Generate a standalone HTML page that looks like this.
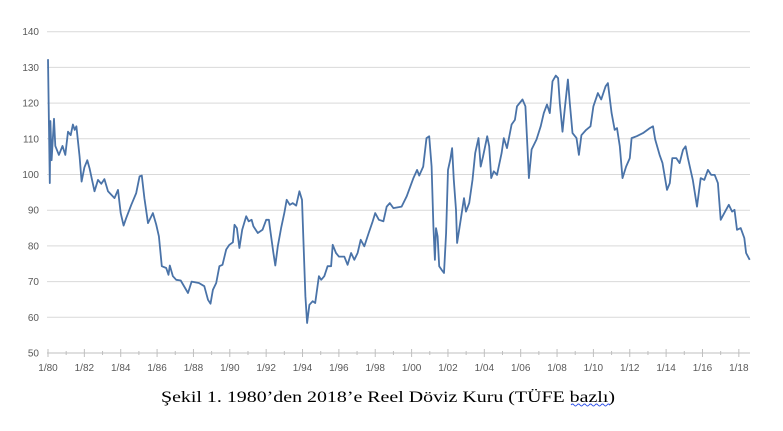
<!DOCTYPE html>
<html><head><meta charset="utf-8"><style>
html,body{margin:0;padding:0;background:#fff;}
svg{display:block;}
</style></head><body>
<svg id="chart" width="783" height="431" xmlns="http://www.w3.org/2000/svg">
<g id="grid"></g>
<g id="yaxis"></g>
<g id="xaxis"></g>
<path id="line" fill="none" stroke="#4a73a8" stroke-width="1.8" stroke-linejoin="round"></path>
<text x="161" y="402" font-family="Liberation Serif, serif" font-size="16" fill="#000" textLength="454" lengthAdjust="spacingAndGlyphs">Şekil 1. 1980’den 2018’e Reel Döviz Kuru (TÜFE bazlı)</text>
<path d="M571 405 q1.5 -2 3 0 t3 0 t3 0 t3 0 t3 0 t3 0 t3 0 t3 0 t3 0 t3 0 t3 0 t3 0 t3 0" fill="none" stroke="#2b4ee8" stroke-width="0.9"/>
</svg>
<script>
const years = [1980,1980.1,1980.13,1980.2,1980.33,1980.4,1980.6,1980.8,1980.95,1981.1,1981.25,1981.37,1981.47,1981.56,1981.74,1981.85,1982.0,1982.16,1982.28,1982.56,1982.75,1982.93,1983.1,1983.3,1983.66,1983.85,1984.0,1984.16,1984.3,1984.58,1984.85,1985.04,1985.16,1985.3,1985.5,1985.77,1985.95,1986.1,1986.26,1986.5,1986.63,1986.7,1986.87,1987.05,1987.3,1987.7,1987.9,1988.3,1988.6,1988.8,1988.94,1989.07,1989.25,1989.43,1989.6,1989.8,1989.98,1990.17,1990.26,1990.39,1990.53,1990.68,1990.9,1991.04,1991.2,1991.3,1991.54,1991.8,1992.0,1992.15,1992.22,1992.4,1992.5,1992.64,1992.82,1993.0,1993.13,1993.3,1993.46,1993.65,1993.83,1993.97,1994.05,1994.16,1994.25,1994.38,1994.56,1994.7,1994.9,1995.03,1995.2,1995.38,1995.57,1995.66,1995.84,1996.0,1996.3,1996.48,1996.67,1996.85,1997.03,1997.2,1997.4,1997.64,1997.86,1998.0,1998.2,1998.45,1998.63,1998.8,1999.0,1999.45,1999.73,2000.1,2000.3,2000.42,2000.64,2000.82,2000.97,2001.1,2001.2,2001.28,2001.34,2001.43,2001.52,2001.65,2001.78,2001.9,2002.0,2002.13,2002.23,2002.32,2002.44,2002.5,2002.7,2002.88,2002.99,2003.17,2003.35,2003.5,2003.68,2003.8,2003.93,2004.16,2004.27,2004.38,2004.52,2004.7,2004.95,2005.07,2005.25,2005.5,2005.68,2005.8,2006.1,2006.26,2006.37,2006.45,2006.6,2006.87,2007.1,2007.27,2007.45,2007.6,2007.75,2007.93,2008.06,2008.15,2008.3,2008.42,2008.6,2008.7,2008.85,2009.07,2009.2,2009.34,2009.6,2009.84,2010.0,2010.25,2010.43,2010.67,2010.8,2011.0,2011.17,2011.3,2011.45,2011.6,2011.8,2012.0,2012.1,2012.37,2012.73,2013.1,2013.28,2013.4,2013.64,2013.8,2014.05,2014.2,2014.34,2014.56,2014.74,2014.93,2015.07,2015.2,2015.47,2015.7,2015.9,2016.1,2016.3,2016.48,2016.67,2016.85,2017.0,2017.2,2017.45,2017.63,2017.76,2017.9,2018.1,2018.3,2018.4,2018.6];
const values = [132.3,97.6,115,104,115.6,108,105.5,108,105.5,112,111,114,112.5,113.5,105,98,102,104,101.8,95.3,98.5,97.4,98.7,95.3,93.4,95.7,89.2,85.7,87.8,91.5,94.8,99.5,99.7,93.4,86.4,89.2,86,82.7,74.3,73.8,71.9,74.5,71.5,70.5,70.3,66.8,70,69.6,68.7,64.9,63.8,67.7,69.6,74.3,74.7,79,80.3,81,85.9,85,79.4,84.5,88.3,86.9,87.3,85.5,83.6,84.5,87.3,87.3,84.5,78,74.5,79.9,85,89.2,92.9,91.5,92,91.3,95.3,92.9,81.7,65.9,58.4,63.5,64.5,64,71.5,70.5,71.5,74.3,74.3,80.3,78,77,77,74.7,78,76.1,78,81.7,79.9,83.6,86.9,89.2,87.3,86.9,91,92,90.6,91,93.9,99,101.3,99.7,102.2,110.2,110.7,102.2,85.5,76.1,85,82.7,74.3,73.3,72.4,83.6,101.3,104.2,107.4,98.5,90.1,80.8,87.3,93.4,89.6,92,98.5,106,110.2,102.2,105,110.7,107.9,99,100.9,99.9,106,110.2,107.4,114,115.3,119.1,121,119.1,107.9,99,107,109.8,113.5,117.2,119.6,117.2,126.1,127.7,127,120,112,118.2,126.6,120,111.6,110.2,105.5,111,112.5,113.5,119.1,122.8,121,124.7,125.6,117.2,112.5,113,107.9,99,102.2,104.6,110.2,110.7,111.6,113,113.5,109.8,105.5,103.2,95.7,97.6,104.6,104.6,103.2,106.9,107.9,104.6,98.5,91,99,98.5,101.3,99.9,99.9,97.6,87.3,89.2,91.5,89.6,90.1,84.5,85,82.2,78,76.1];
const yTicks = [50,60,70,80,90,100,110,120,130,140];
const xTickLabels = ["1/80","1/82","1/84","1/86","1/88","1/90","1/92","1/94","1/96","1/98","1/00","1/02","1/04","1/06","1/08","1/10","1/12","1/14","1/16","1/18"];
const xTickYears = [1980,1982,1984,1986,1988,1990,1992,1994,1996,1998,2000,2002,2004,2006,2008,2010,2012,2014,2016,2018];

const NS="http://www.w3.org/2000/svg";
const X0=48, PXY=18.18, Y50=353, PXV=3.57;
const xs = y => X0 + (y-1980)*PXY;
const ys = v => Y50 - (v-50)*PXV;
function mk(tag, attrs, parent){const e=document.createElementNS(NS,tag);for(const k in attrs)e.setAttribute(k,attrs[k]);parent.appendChild(e);return e;}
const grid=document.getElementById('grid'), ya=document.getElementById('yaxis'), xa=document.getElementById('xaxis');
yTicks.forEach(v=>{
  if(v>50){const l=mk('line',{x1:47,x2:750,y1:ys(v),y2:ys(v),stroke:'#d9d9d9','stroke-width':1},grid);
  
  }
  const t=mk('text',{x:39,y:ys(v)+3.5,'text-anchor':'end','font-family':'Liberation Sans, sans-serif','font-size':10,fill:'#595959'},ya);
  
  
  t.textContent=v;
});
const ax=mk('line',{x1:47,x2:750,y1:Y50,y2:Y50,stroke:'#bfbfbf','stroke-width':1},xa);


for(let yr=1980; yr<=2018; yr++){
  const major=(yr%2===0);
  const tk=mk('line',{x1:xs(yr),x2:xs(yr),y1:Y50-(major?4:2),y2:Y50+(major?4:2),stroke:'#bfbfbf','stroke-width':1},xa);
  
  
}
xTickLabels.forEach((lab,i)=>{
  const t=mk('text',{x:xs(xTickYears[i]),y:371,'text-anchor':'middle','font-family':'Liberation Sans, sans-serif','font-size':10,fill:'#595959'},xa);
  
  
  t.textContent=lab;
});
let d='';
years.forEach((y,i)=>{d+=(i?'L':'M')+xs(y).toFixed(1)+' '+ys(values[i]).toFixed(1);});
document.getElementById('line').setAttribute('d',d);
</script>
</body></html>
